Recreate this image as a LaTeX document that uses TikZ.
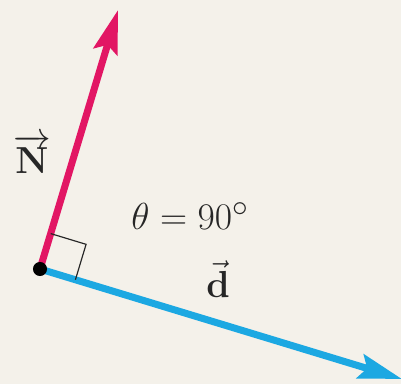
\documentclass[tikz,border=0pt]{standalone}
\usepackage{amsmath,xcolor,graphicx}
\definecolor{bgcream}{RGB}{244,241,234}
\definecolor{vecpink}{RGB}{226,22,100}
\definecolor{vecblue}{RGB}{28,168,226}
\usetikzlibrary{arrows.meta,positioning,calc}
\newcommand{\biglbl}[1]{\scalebox{1.29}{\Huge #1}}

\begin{document}
\begin{tikzpicture}[x=0.03cm, y=-0.03cm,
  vecarr/.style={-{Stealth[length=37pt, width=21pt, inset=6pt]}, line width=6pt},
  dotnode/.style={circle, fill=black, inner sep=0pt, minimum size=12pt},
  lbl/.style={text=black!85, inner sep=0pt}
]
% Background
\fill[bgcream] (0,0) rectangle (401,384);
\useasboundingbox (0,0) rectangle (401,384);

% Tail point and tips
\coordinate (origin) at (40,269);
\coordinate (ntip) at (118,10);
\coordinate (dtip) at (402,379);

% Vectors
\draw[vecarr, draw=vecpink, fill=vecpink] (origin) -- (ntip);
\draw[vecarr, draw=vecblue, fill=vecblue] (origin) -- (dtip);

% Right angle mark
\coordinate (ma) at ($(origin)!1.11cm!(ntip)$);
\coordinate (mb) at ($(origin)!1.11cm!(dtip)$);
\draw[line width=1pt, black!85] (ma) -- ($(ma)+(mb)-(origin)$) -- (mb);

\node[dotnode] (dot) at (origin) {};

% Labels
\node[lbl] (nlabel) at (32,154) {\biglbl{$\overrightarrow{\mathbf{N}}$}};
\node[lbl] (theta)  at (190,216) {\biglbl{$\theta = 90^\circ$}};
\node[lbl] (dlabel) at (218,279) {\biglbl{$\vec{\mathbf{d}}$}};
\end{tikzpicture}
\end{document}
